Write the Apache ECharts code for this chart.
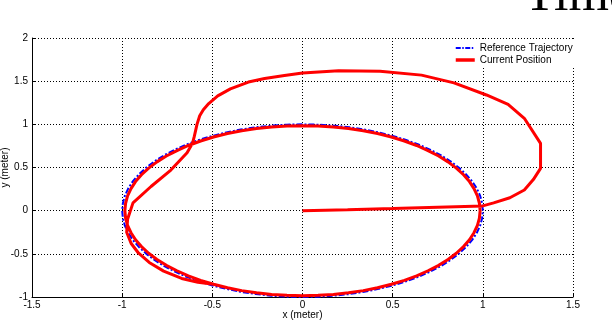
<!DOCTYPE html>
<html>
<head>
<meta charset="utf-8">
<script src="https://cdn.jsdelivr.net/npm/echarts@6/dist/echarts.min.js"></script>
<style>
html,body{margin:0;padding:0;background:#fff;}
#c{width:612px;height:322px;}
</style>
</head>
<body>
<div id="c"></div>
<script>
// Reference trajectory (unit circle), read every 5 degrees
var refX = [1,0.996,0.985,0.966,0.940,0.906,0.866,0.819,0.766,0.707,0.643,0.574,0.500,0.423,0.342,0.259,0.174,0.087,0,
  -0.087,-0.174,-0.259,-0.342,-0.423,-0.500,-0.574,-0.643,-0.707,-0.766,-0.819,-0.866,-0.906,-0.940,-0.966,-0.985,-0.996,-1,
  -0.996,-0.985,-0.966,-0.940,-0.906,-0.866,-0.819,-0.766,-0.707,-0.643,-0.574,-0.500,-0.423,-0.342,-0.259,-0.174,-0.087,0,
  0.087,0.174,0.259,0.342,0.423,0.500,0.574,0.643,0.707,0.766,0.819,0.866,0.906,0.940,0.966,0.985,0.996,1];
var refY = [0,0.087,0.174,0.259,0.342,0.423,0.500,0.574,0.643,0.707,0.766,0.819,0.866,0.906,0.940,0.966,0.985,0.996,1,
  0.996,0.985,0.966,0.940,0.906,0.866,0.819,0.766,0.707,0.643,0.574,0.500,0.423,0.342,0.259,0.174,0.087,0,
  -0.087,-0.174,-0.259,-0.342,-0.423,-0.500,-0.574,-0.643,-0.707,-0.766,-0.819,-0.866,-0.906,-0.940,-0.966,-0.985,-0.996,-1,
  -0.996,-0.985,-0.966,-0.940,-0.906,-0.866,-0.819,-0.766,-0.707,-0.643,-0.574,-0.500,-0.423,-0.342,-0.259,-0.174,-0.087,0];

// Current position (robot path)
var posX = [0,0.25,0.5,0.75,1.0,1.06,1.15,1.23,1.28,1.32,1.32,1.23,1.14,1.02,0.84,0.66,0.43,0.2,0.0,-0.1,-0.21,-0.30,-0.40,-0.47,-0.52,-0.55,-0.57,-0.585,-0.60,-0.61,-0.64,-0.73,-0.84,-0.94,-0.97,
  -0.975,-0.95,-0.91,-0.85,-0.77,-0.67,-0.58,-0.493,-0.416,-0.337,-0.255,-0.171,-0.086,0,
  0.086,0.171,0.255,0.337,0.416,0.493,0.565,0.633,0.696,0.755,0.807,0.853,0.893,0.926,0.951,0.970,0.981,0.985,
  0.981,0.970,0.951,0.926,0.893,0.853,0.807,0.755,0.696,0.633,0.565,0.493,0.416,0.337,0.255,0.171,0.086,0,
  -0.086,-0.171,-0.255,-0.337,-0.416,-0.493,-0.565,-0.633,-0.696,-0.755,-0.807,-0.853,-0.893,-0.926,-0.951,-0.970,-0.981,-0.985,
  -0.981,-0.970,-0.951,-0.926,-0.893,-0.853,-0.807,-0.755,-0.696,-0.633,-0.565,-0.493];
var posY = [0,0.012,0.025,0.04,0.055,0.09,0.15,0.24,0.36,0.49,0.78,1.07,1.23,1.34,1.48,1.57,1.615,1.62,1.595,1.565,1.53,1.49,1.41,1.33,1.24,1.17,1.10,1.00,0.86,0.78,0.67,0.47,0.28,0.09,-0.10,
  -0.25,-0.38,-0.49,-0.60,-0.70,-0.785,-0.83,-0.853,-0.893,-0.926,-0.951,-0.970,-0.981,-0.985,
  -0.981,-0.970,-0.951,-0.926,-0.893,-0.853,-0.807,-0.755,-0.696,-0.633,-0.565,-0.493,-0.416,-0.337,-0.255,-0.171,-0.086,0,
  0.086,0.171,0.255,0.337,0.416,0.493,0.565,0.633,0.696,0.755,0.807,0.853,0.893,0.926,0.951,0.970,0.981,0.985,
  0.981,0.970,0.951,0.926,0.893,0.853,0.807,0.755,0.696,0.633,0.565,0.493,0.416,0.337,0.255,0.171,0.086,0,
  -0.086,-0.171,-0.255,-0.337,-0.416,-0.493,-0.565,-0.633,-0.696,-0.755,-0.807,-0.853];

var xTicks = {min: -1.5, max: 1.5, interval: 0.5};
var yTicks = {min: -1, max: 2, interval: 0.5};
var seriesNames = ['Reference Trajectory', 'Current Position'];

function pairs(xs, ys){ return xs.map(function(v,i){ return [v, ys[i]]; }); }

var font = 'Liberation Sans, Arial, Helvetica, sans-serif';
var chart = echarts.init(document.getElementById('c'), null, {renderer:'canvas'});
chart.setOption({
  animation: false,
  backgroundColor: '#fff',
  grid: {left: 32, right: 39, top: 38, bottom: 25, containLabel: false, outerBoundsMode: 'none'},
  graphic: [{
    type: 'text', x: 524, y: 22, z: 100,
    style: {text: 'Time', font: '52px "Liberation Serif", "Times New Roman", serif', fill: '#000', textVerticalAlign: 'bottom'}
  }],
  legend: {
    orient: 'vertical', left: 452, top: 41,
    backgroundColor: '#fff', padding: [2, 2, 3, 2],
    itemWidth: 19, itemHeight: 8, itemGap: 2,
    itemStyle: {color: 'rgba(0,0,0,0)', borderWidth: 0, opacity: 0},
    textStyle: {fontFamily: font, fontSize: 10, color: '#000'},
    data: [
      {name: seriesNames[0], lineStyle: {color: '#0000ff', width: 2, type: [5,1.5,1.5,1.5]}},
      {name: seriesNames[1], lineStyle: {color: '#ff0000', width: 3.5}}
    ]
  },
  xAxis: {
    type: 'value', min: xTicks.min, max: xTicks.max, interval: xTicks.interval,
    name: 'x (meter)', nameLocation: 'middle', nameGap: 13, nameMoveOverlap: false,
    nameTextStyle: {fontFamily: font, fontSize: 10, color: '#000', verticalAlign: 'top'},
    axisLine: {show: true, onZero: false, lineStyle: {color: '#000', width: 1}},
    axisTick: {show: true, inside: true, length: 4, lineStyle: {color: '#000'}},
    axisLabel: {fontFamily: font, fontSize: 10, color: '#000', margin: 3},
    splitLine: {show: true, lineStyle: {color: '#000', width: 1, type: [1,2]}}
  },
  yAxis: {
    type: 'value', min: yTicks.min, max: yTicks.max, interval: yTicks.interval,
    name: 'y (meter)', nameLocation: 'middle', nameGap: 22, nameMoveOverlap: false,
    nameTextStyle: {fontFamily: font, fontSize: 10, color: '#000'},
    axisLine: {show: true, onZero: false, lineStyle: {color: '#000', width: 1}},
    axisTick: {show: true, inside: true, length: 4, lineStyle: {color: '#000'}},
    axisLabel: {fontFamily: font, fontSize: 10, color: '#000', margin: 4},
    splitLine: {show: true, lineStyle: {color: '#000', width: 1, type: [1,2]}}
  },
  series: [
    {
      name: seriesNames[0], type: 'line', data: pairs(refX, refY), showSymbol: false, symbol: 'none',
      lineStyle: {color: '#0000ff', width: 2, type: [6,2,2,2]}, itemStyle: {color: '#0000ff'}, z: 2
    },
    {
      name: seriesNames[1], type: 'line', data: pairs(posX, posY), showSymbol: false, symbol: 'none',
      lineStyle: {color: '#ff0000', width: 3}, itemStyle: {color: '#ff0000'}, z: 3
    }
  ]
});
</script>
</body>
</html>
